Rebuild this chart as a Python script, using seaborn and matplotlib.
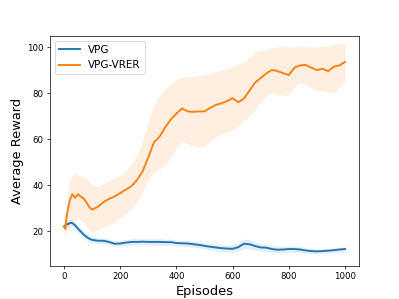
import numpy as np
import seaborn as sns
import matplotlib
matplotlib.use("Agg")
import matplotlib.pyplot as plt

episodes = [0, 5, 10, 15, 20, 30, 40, 50, 60, 70, 80, 90, 100,
            120, 140, 160, 180, 200, 220, 240, 260, 280, 300, 320, 340, 360, 380,
            400, 420, 440, 460, 480, 500, 520, 540, 560, 580, 600, 620, 640, 660,
            680, 700, 720, 740, 760, 780, 800, 820, 840, 860, 880, 900, 920, 940,
            960, 980, 1000]

vrer_mean = [22, 21, 27, 30, 33, 36, 34.5, 36, 35, 34.2, 32.5, 30.5, 29.3,
             30.5, 32.5, 34, 35, 36.5, 38, 39.5, 42.2, 46, 52, 58.5, 61, 65, 68.5,
             71, 73.3, 72, 71.8, 72, 72, 73.5, 74.8, 75.5, 76.5, 77.7, 76, 77.5, 81,
             84.5, 86.5, 88.5, 90, 89.5, 88.6, 87.8, 91, 92, 92.2, 91, 90, 90.5, 89.5,
             91.4, 92, 93.5]
vrer_upper = [24, 25, 33, 38, 42, 44, 45, 44.5, 44, 43.5, 43, 41, 40,
              39.5, 40.5, 42, 43, 44, 46, 49, 53, 59, 68, 75, 79, 81.5, 84,
              86, 87, 87, 87, 87.5, 88, 88.5, 89.3, 90, 90.5, 91.5, 92.5, 93.5, 95.5,
              98, 98.5, 99, 99.5, 100, 100.5, 100, 100, 100.5, 100.5, 100, 100, 100.5, 100.5,
              101, 101.5, 101.5]
vrer_lower = [20, 18, 20, 21, 23, 25, 24, 26, 24.5, 24, 22, 20.5, 19.5,
              20.5, 21.5, 22.6, 24, 25.5, 27.5, 29.5, 32.5, 37, 42.5, 45.5, 47, 49, 52,
              56, 59, 58, 57, 56.5, 57, 59, 61, 62, 63, 64, 66, 68, 70,
              73, 76, 79, 80, 79.5, 79, 79, 83, 84.2, 84, 82, 81.3, 81, 80.6,
              80, 82.5, 85]

vpg_mean = [22, 22.5, 23, 23, 23.5, 23.5, 22.5, 21, 19.8, 18.5, 17.5, 16.7, 16.2,
            15.8, 15.8, 15.3, 14.5, 14.6, 15, 15.3, 15.3, 15.4, 15.3, 15.3, 15.3, 15.2, 15.2,
            14.8, 14.7, 14.6, 14.3, 14, 13.6, 13.2, 12.9, 12.6, 12.4, 12.3, 13, 14.5, 14.3,
            13.5, 12.9, 12.8, 12.2, 11.9, 12, 12.2, 12.2, 12, 11.6, 11.3, 11.2, 11.3, 11.5,
            11.7, 12, 12.2]
vpg_err = [1.0, 1.2, 1.3, 1.4, 1.5, 1.5, 1.5, 1.5, 1.5, 1.5, 1.4, 1.3, 1.2,
           1.2, 1.2, 1.2, 1.2, 1.2, 1.3, 1.4, 1.4, 1.4, 1.4, 1.4, 1.4, 1.3, 1.3,
           1.3, 1.3, 1.3, 1.3, 1.3, 1.3, 1.4, 1.4, 1.5, 1.5, 1.6, 1.8, 2.0, 2.0,
           1.8, 1.6, 1.5, 1.5, 1.4, 1.4, 1.4, 1.4, 1.3, 1.2, 1.1, 1.0, 1.0, 1.0,
           1.0, 1.0, 1.0]

ep = np.array(episodes)
vpg_mean = np.array(vpg_mean)
vpg_err = np.array(vpg_err)

fig, ax = plt.subplots(figsize=(6.4, 4.8), dpi=399 / 6.4)

blue, orange = "#1f77b4", "#ff7f0e"

sns.lineplot(x=ep, y=vpg_mean, color=blue, lw=2.2, label="VPG", ax=ax)
ax.fill_between(ep, vpg_mean - vpg_err, vpg_mean + vpg_err, color=blue, alpha=0.12, lw=0)

sns.lineplot(x=ep, y=vrer_mean, color=orange, lw=2.2, label="VPG-VRER", ax=ax)
ax.fill_between(ep, vrer_lower, vrer_upper, color=orange, alpha=0.12, lw=0)

ax.set_ylim(4.8, 104.9)
ax.set_xlabel("Episodes", fontsize=15)
ax.set_ylabel("Average Reward", fontsize=15)
ax.tick_params(labelsize=10)
ax.legend(loc="upper left", fontsize=12)

fig.savefig("out.png", dpi=399 / 6.4)
